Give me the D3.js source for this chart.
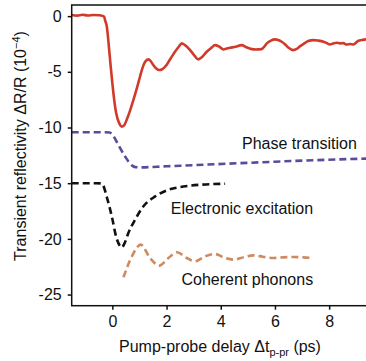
<!DOCTYPE html>
<html><head><meta charset="utf-8">
<script src="https://cdn.jsdelivr.net/npm/d3@7"></script>
<style>
html,body{margin:0;padding:0;background:#fff;}
svg{display:block;font-family:"Liberation Sans",Arial,sans-serif;}
</style></head>
<body><svg id="c" width="366" height="361"></svg>
<script>
// Measured signal (red)
const measuredT = [-1.5,-1.3,-1.1,-0.9,-0.7,-0.5,-0.4,-0.3,-0.27,-0.2,-0.15,-0.06,0.04,0.14,0.25,0.35,0.45,0.53,0.65,0.78,0.9,1.02,1.12,1.21,1.33,1.42,1.51,1.62,1.73,1.85,2.0,2.15,2.31,2.45,2.56,2.68,2.87,3.0,3.17,3.3,3.48,3.65,3.79,3.95,4.1,4.22,4.34,4.55,4.77,4.95,5.14,5.3,5.51,5.6,5.7,5.85,6.0,6.12,6.25,6.38,6.49,6.68,6.8,6.93,7.08,7.23,7.42,7.6,7.79,7.9,8.03,8.15,8.28,8.4,8.52,8.65,8.78,8.89,9.08,9.2,9.36,9.5];
const measuredV = [0.1,0.05,0.12,0.06,0.1,0.08,0.05,-0.05,-0.36,-1.0,-2.15,-4.54,-6.93,-8.7,-9.6,-9.92,-9.75,-9.3,-8.5,-7.5,-6.5,-5.44,-4.6,-4.1,-3.88,-4.05,-4.39,-4.7,-4.84,-4.75,-4.39,-3.8,-3.2,-2.75,-2.45,-2.6,-3.05,-3.45,-3.88,-3.7,-3.2,-2.85,-2.6,-2.75,-2.99,-2.9,-2.84,-2.75,-2.6,-2.8,-2.96,-3.0,-2.96,-2.75,-2.45,-2.2,-2.09,-2.15,-2.3,-2.55,-2.81,-3.05,-2.95,-2.69,-2.45,-2.24,-2.15,-2.2,-2.3,-2.4,-2.54,-2.45,-2.39,-2.45,-2.42,-2.54,-2.5,-2.54,-2.21,-2.15,-2.09,-2.1];

// Phase transition (purple dashed)
const phaseT = [-1.5,-0.5,-0.1,0.05,0.22,0.47,0.72,0.85,1.0,2.0,3.0,4.72,6.0,7.5,9.5];
const phaseV = [-10.42,-10.42,-10.45,-10.8,-11.56,-12.6,-13.4,-13.56,-13.58,-13.48,-13.38,-13.2,-13.07,-12.93,-12.78];

// Electronic excitation (black dashed)
const elecT = [-1.5,-0.6,-0.42,-0.35,-0.21,-0.02,0.14,0.27,0.35,0.45,0.59,0.84,1.14,1.58,2.0,2.62,3.24,4.16];
const elecV = [-15.0,-15.0,-15.02,-15.14,-16.2,-17.98,-19.8,-20.6,-20.76,-20.4,-19.47,-18.28,-17.09,-16.19,-15.65,-15.3,-15.14,-15.05];

// Coherent phonons (orange dashed)
const phonT = [0.41,0.72,1.05,1.39,1.73,2.07,2.38,2.75,3.05,3.42,3.79,4.16,4.47,4.85,5.2,5.55,5.94,6.3,6.68,7.05,7.42];
const phonV = [-23.45,-21.57,-20.52,-21.72,-22.4,-21.72,-21.2,-21.72,-22.02,-21.57,-21.36,-21.72,-21.86,-21.65,-21.48,-21.6,-21.72,-21.66,-21.63,-21.66,-21.72];

const xTicks = [0,2,4,6,8];
const yTicks = [0,-5,-10,-15,-20,-25];
const labels = ["Phase transition","Electronic excitation","Coherent phonons"];
const labelX = [9.02,7.41,7.41];
const labelY = [-11.93,-17.77,-24.14];

const svg = d3.select("#c");
const x = d3.scaleLinear().domain([-1.5,9.5]).range([71.7,369.8]);
const y = d3.scaleLinear().domain([-26,1]).range([305.7,5]);

const g = svg.append("g");

function series(T,V,color,dash,w){
  const pts = T.map((t,i)=>[t,V[i]]);
  const line = d3.line().x(d=>x(d[0])).y(d=>y(d[1])).curve(d3.curveMonotoneX);
  g.append("path").datum(pts).attr("d",line).attr("fill","none")
    .attr("stroke",color).attr("stroke-width",w)
    .attr("stroke-dasharray",dash||null).attr("stroke-linejoin","round");
}
series(phaseT,phaseV,"#5d4a9c","7,4",2.6);
series(elecT,elecV,"#111111","7,4",2.6);
series(phonT,phonV,"#d08a60","7,4",2.6);
series(measuredT,measuredV,"#d13a2a",null,2.6);

// frame
g.append("rect").attr("x",x(-1.5)).attr("y",y(1)).attr("width",x(9.5)-x(-1.5)).attr("height",y(-26)-y(1))
  .attr("fill","none").attr("stroke","#111").attr("stroke-width",1.5);

// axes
const xa = svg.append("g").attr("transform",`translate(0,${y(-26)})`)
  .call(d3.axisBottom(x).tickValues(xTicks).tickSize(4).tickPadding(6).tickFormat(d3.format("d")));
const ya = svg.append("g").attr("transform",`translate(${x(-1.5)},0)`)
  .call(d3.axisLeft(y).tickValues(yTicks).tickSize(4).tickPadding(6).tickFormat(d=>d<0?"-"+Math.abs(d):d));
[xa,ya].forEach(a=>{
  a.select(".domain").remove();
  a.selectAll("line").attr("stroke","#111").attr("stroke-width",1.5);
  a.selectAll("text").attr("font-size",16).attr("fill","#111").attr("font-family","Liberation Sans, Arial, sans-serif");
});

// annotations
labels.forEach((s,i)=>{
  svg.append("text").attr("x",x(labelX[i])).attr("y",y(labelY[i]))
    .attr("text-anchor","end").attr("font-size",16).attr("fill","#111").text(s);
});

// axis titles
const xt = svg.append("text").attr("x",220).attr("y",352).attr("text-anchor","middle")
  .attr("font-size",16).attr("fill","#111");
xt.append("tspan").text("Pump-probe delay \u0394t");
xt.append("tspan").attr("font-size",11).attr("dy",4).text("p-pr");
xt.append("tspan").attr("dy",-4).text(" (ps)");

const yt = svg.append("text").attr("transform","translate(26,146) rotate(-90)").attr("text-anchor","middle")
  .attr("font-size",16).attr("fill","#111");
yt.append("tspan").text("Transient reflectivity \u0394R/R (10");
yt.append("tspan").attr("font-size",11).attr("dy",-6).text("\u22124");
yt.append("tspan").attr("dy",6).text(")");
</script></body></html>
